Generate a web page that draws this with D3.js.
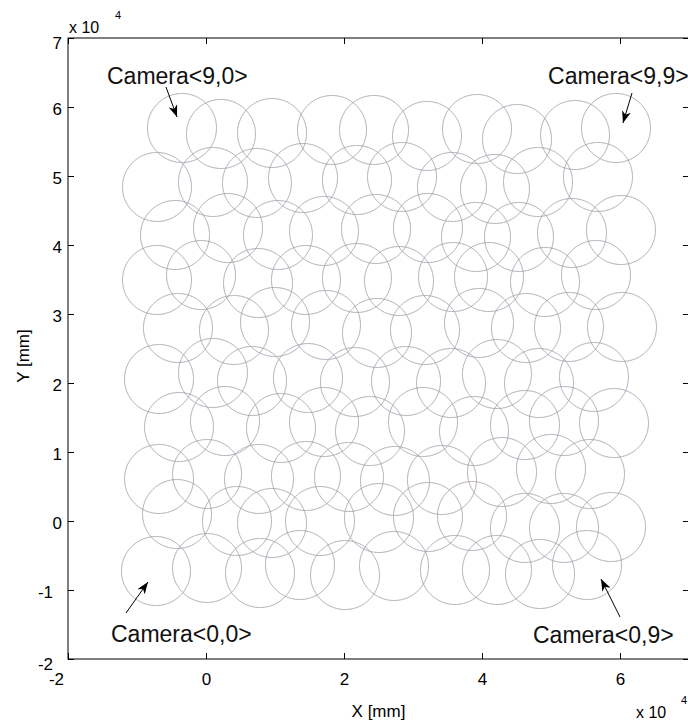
<!DOCTYPE html>
<html>
<head>
<meta charset="utf-8">
<script src="https://cdn.jsdelivr.net/npm/d3@7"></script>
<style>
body { margin: 0; background: #fff; }
text { font-family: "Liberation Sans", Arial, Helvetica, sans-serif; }
</style>
</head>
<body>
<svg id="chart" width="688" height="721"></svg>
<script>
// camera centres in mm, one line per camera row (row 0 is the bottom row)
var camX = [
	[-7250, 150, 7830, 13620, 20150, 27250, 36090, 42170, 48410, 55220],
	[-4200, 4490, 9570, 16520, 25070, 32170, 38550, 46230, 51880, 58700],
	[-6810, 150, 7680, 14490, 20720, 27390, 34200, 42900, 50000, 55650],
	[-3910, 2750, 10870, 17100, 23770, 31450, 38840, 46230, 51880, 59130],
	[-6810, 1010, 6670, 14780, 21590, 28990, 35510, 42170, 48260, 56230],
	[-4060, 4060, 10000, 17390, 24780, 31740, 39570, 46380, 52610, 60290],
	[-7100, -720, 7540, 14490, 21880, 27970, 35800, 41010, 49130, 56520],
	[-4490, 3190, 10430, 17100, 24640, 32170, 39130, 45360, 53040, 60140],
	[-7100, 1010, 7390, 14060, 21880, 28410, 35650, 41880, 48120, 56810],
	[-3480, 2170, 9570, 18260, 24350, 32030, 39280, 45070, 53480, 59420]
];
var camY = [
	[-7250, -6810, -7540, -6380, -7830, -6520, -7100, -7100, -7680, -6380],
	[1010, 0, -290, 0, 430, 580, 720, -1010, -1010, -870],
	[6090, 6810, 6090, 6520, 6380, 5800, 5940, 7100, 7540, 6810],
	[13620, 14490, 13480, 14350, 13040, 14350, 13040, 13910, 14490, 14200],
	[20580, 21450, 20290, 20720, 20140, 20290, 20000, 21300, 20000, 20870],
	[27970, 27680, 28840, 28410, 27250, 27680, 28700, 27970, 28120, 28120],
	[34930, 35650, 34490, 34930, 35220, 34780, 35360, 35360, 34640, 35650],
	[41450, 42460, 41450, 42030, 42320, 42460, 41160, 41160, 41740, 42170],
	[48410, 49130, 48990, 49710, 49420, 49860, 48410, 48120, 49130, 49860],
	[56960, 56090, 56230, 56670, 56670, 55800, 56810, 55360, 55940, 56960]
];
var camRadius = 5000;

var xTicks = [-20000, 0, 20000, 40000, 60000];
var yTicks = [-20000, -10000, 0, 10000, 20000, 30000, 40000, 50000, 60000, 70000];

// annotation text anchors and arrows (mm)
var labelText = ["Camera<9,0>", "Camera<9,9>", "Camera<0,0>", "Camera<0,9>"];
var labelX = [-14350, 49570, -13770, 47390];
var labelY = [63330, 63330, -17540, -17680];
var arrowFrom = [[-5800, 62900], [61740, 62030], [-11590, -13330], [60000, -13910]];
var arrowTo = [[-4200, 58550], [60430, 57680], [-8410, -8840], [57250, -8410]];

var svg = d3.select("#chart"),
	margin = {top: 38, left: 68},
	width = 621,
	height = 621;

var x = d3.scaleLinear().domain([-20000, 70000]).range([0, width]),
	y = d3.scaleLinear().domain([-20000, 70000]).range([height, 0]);

var g = svg.append("g")
	.attr("transform", "translate(" + margin.left + "," + margin.top + ")");

var cams = [];
for (var i = 0; i < camX.length; i++) {
	for (var j = 0; j < camX[i].length; j++) {
		cams.push({row: i, col: j, x: camX[i][j], y: camY[i][j]});
	}
}

// dotted multi-coloured outlines: three interleaved dash patterns
var dotColors = ["#dc8a8a", "#8a8ae0", "#8ab88a"];
dotColors.forEach(function(c, k) {
	g.append("g").selectAll("circle")
		.data(cams)
		.enter().append("circle")
		.attr("cx", function(d) { return x(d.x); })
		.attr("cy", function(d) { return y(d.y); })
		.attr("r", x(camRadius) - x(0))
		.attr("fill", "none")
		.attr("stroke", c)
		.attr("stroke-width", 0.9)
		.attr("stroke-dasharray", "1.1,2.2")
		.attr("stroke-dashoffset", -1.1 * k);
});

var fmt = function(d) { return d / 10000; };

var xAxis = g.append("g")
	.attr("transform", "translate(0," + height + ")")
	.call(d3.axisBottom(x).tickValues(xTicks).tickFormat(fmt)
		.tickSizeInner(-6).tickSizeOuter(0).tickPadding(14));

var yAxis = g.append("g")
	.call(d3.axisLeft(y).tickValues(yTicks).tickFormat(fmt)
		.tickSizeInner(-6).tickSizeOuter(0).tickPadding(6));

g.append("g")
	.call(d3.axisTop(x).tickValues(xTicks).tickFormat("")
		.tickSizeInner(-6).tickSizeOuter(0));

g.append("g")
	.attr("transform", "translate(" + width + ",0)")
	.call(d3.axisRight(y).tickValues(yTicks).tickFormat("")
		.tickSizeInner(-6).tickSizeOuter(0));

g.selectAll(".domain").remove();
g.selectAll(".tick line").attr("stroke", "#000");
g.selectAll(".tick text")
	.attr("fill", "#000")
	.style("font-family", "'Liberation Sans', Arial, sans-serif")
	.style("font-size", "17px");

xAxis.selectAll(".tick text")
	.attr("dx", function(d) { return d < 0 ? -12 : 0; });
yAxis.selectAll(".tick text")
	.attr("dx", function(d) { return d < 0 ? -9 : 0; })
	.attr("dy", function(d) { return (d == -20000 || d == 70000) ? "0.6em" : "0.42em"; });

g.append("rect")
	.attr("width", width)
	.attr("height", height)
	.attr("fill", "none")
	.attr("stroke", "#000")
	.attr("stroke-width", 1);

// exponent labels
svg.append("text").attr("x", 69).attr("y", 33).style("font-size", "16px").text("x 10");
svg.append("text").attr("x", 115).attr("y", 19).style("font-size", "11px").text("4");
svg.append("text").attr("x", 636).attr("y", 718).style("font-size", "16px").text("x 10");
svg.append("text").attr("x", 681).attr("y", 704).style("font-size", "11px").text("4");

// axis titles
svg.append("text")
	.attr("x", margin.left + width / 2)
	.attr("y", 717)
	.attr("text-anchor", "middle")
	.style("font-size", "17px")
	.text("X [mm]");

svg.append("text")
	.attr("transform", "translate(29," + 356 + ") rotate(-90)")
	.attr("text-anchor", "middle")
	.style("font-size", "17px")
	.text("Y [mm]");

// annotations
svg.append("defs").append("marker")
	.attr("id", "head")
	.attr("viewBox", "0 0 12 9")
	.attr("refX", 12)
	.attr("refY", 4.5)
	.attr("markerUnits", "userSpaceOnUse")
	.attr("markerWidth", 12)
	.attr("markerHeight", 9)
	.attr("orient", "auto")
	.append("path")
	.attr("d", "M0,0 L12,4.5 L0,9 L3.5,4.5 Z")
	.attr("fill", "#000");

for (var a = 0; a < arrowFrom.length; a++) {
	g.append("line")
		.attr("x1", x(arrowFrom[a][0]))
		.attr("y1", y(arrowFrom[a][1]))
		.attr("x2", x(arrowTo[a][0]))
		.attr("y2", y(arrowTo[a][1]))
		.attr("stroke", "#000")
		.attr("stroke-width", 1)
		.attr("marker-end", "url(#head)");
}

g.selectAll(".cam-label")
	.data(labelText)
	.enter().append("text")
	.attr("class", "cam-label")
	.attr("x", function(d, i) { return x(labelX[i]); })
	.attr("y", function(d, i) { return y(labelY[i]); })
	.style("font-size", "23px")
	.attr("fill", "#111")
	.text(function(d) { return d; });
</script>
</body>
</html>
